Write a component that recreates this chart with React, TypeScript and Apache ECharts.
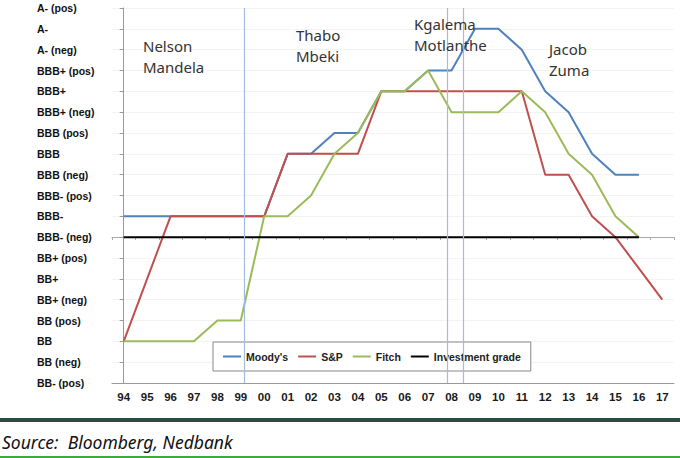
import React from 'react';
import { useEffect, useRef } from 'react';
import * as echarts from 'echarts';

// 评级刻度（自下而上）
const ratings = [
  'BB- (pos)', 'BB (neg)', 'BB', 'BB (pos)', 'BB+ (neg)', 'BB+', 'BB+ (pos)',
  'BBB- (neg)', 'BBB-', 'BBB- (pos)', 'BBB (neg)', 'BBB', 'BBB (pos)',
  'BBB+ (neg)', 'BBB+', 'BBB+ (pos)', 'A- (neg)', 'A-', 'A- (pos)'
];

const years = [
  '94', '95', '96', '97', '98', '99', '00', '01', '02', '03', '04', '05',
  '06', '07', '08', '09', '10', '11', '12', '13', '14', '15', '16', '17'
];

const moodys = [8, 8, 8, 8, 8, 8, 8, 11, 11, 12, 12, 14, 14, 15, 15, 17, 17, 16, 14, 13, 11, 10, 10, null];
const sp = [2, 5, 8, 8, 8, 8, 8, 11, 11, 11, 11, 14, 14, 14, 14, 14, 14, 14, 10, 10, 8, 7, 5.5, 4];
const fitch = [2, 2, 2, 2, 3, 3, 8, 8, 9, 11, 12, 14, 14, 15, 13, 13, 13, 14, 13, 11, 10, 8, 7, null];
const investmentGrade = [7, 7, 7, 7, 7, 7, 7, 7, 7, 7, 7, 7, 7, 7, 7, 7, 7, 7, 7, 7, 7, 7, 7, null];

// 总统任期分界（按年份索引）
const termBreaks = [5.15, 13.8, 14.52];

const presidents = [
  { lines: ['Nelson', 'Mandela'], x: 143, y: 46 },
  { lines: ['Thabo', 'Mbeki'], x: 296, y: 35 },
  { lines: ['Kgalema', 'Motlanthe'], x: 414, y: 24 },
  { lines: ['Jacob', 'Zuma'], x: 549, y: 49 }
];

const ARIAL = '"Liberation Sans", Arial, sans-serif';

const App: React.FC = () => {
  const chartRef = useRef<HTMLDivElement>(null);

  useEffect(() => {
    document.body.style.margin = '0';
    if (!chartRef.current) return;
    const chart = echarts.init(chartRef.current, undefined, { renderer: 'svg' });

    const lineSeries = (name: string, data: (number | null)[], color: string) => ({
      name,
      type: 'line',
      data,
      symbol: 'none',
      xAxisIndex: 0,
      yAxisIndex: 0,
      lineStyle: { color, width: 2 },
      itemStyle: { color }
    });

    const textEls: any[] = [];
    presidents.forEach((p) => {
      p.lines.forEach((t, i) => {
        textEls.push({
          type: 'text',
          x: p.x,
          y: p.y + i * 21,
          z: 100,
          style: {
            text: t,
            fill: '#333',
            font: '15px "Noto Sans", sans-serif',
            verticalAlign: 'middle'
          }
        });
      });
    });

    const option = {
      animation: false,
      grid: { left: 112, right: 6, top: 8, bottom: 75 },
      legend: {
        data: ["Moody's", 'S&P', 'Fitch', 'Investment grade'],
        left: 213,
        top: 342,
        padding: [9, 10],
        itemGap: 10,
        icon: 'rect',
        itemWidth: 18,
        itemHeight: 2,
        backgroundColor: '#fff',
        borderColor: '#888',
        borderWidth: 1,
        borderRadius: 0,
        textStyle: { fontFamily: ARIAL, fontWeight: 'bold', fontSize: 10.5, color: '#222' }
      },
      xAxis: [
        {
          type: 'category',
          data: years,
          boundaryGap: true,
          axisLine: { lineStyle: { color: '#999', width: 1 } },
          axisTick: { show: false },
          axisLabel: {
            fontFamily: ARIAL,
            fontWeight: 'bold',
            fontSize: 11.5,
            color: '#1a1a1a',
            margin: 8,
            interval: 0
          },
          splitLine: { show: false }
        },
        {
          // 投资级线上的刻度
          type: 'category',
          data: years,
          position: 'bottom',
          offset: -146,
          boundaryGap: true,
          axisLine: { lineStyle: { color: '#aaa', width: 1 } },
          axisTick: { show: true, length: 3, lineStyle: { color: '#aaa' } },
          axisLabel: { show: false },
          splitLine: { show: false }
        },
        {
          type: 'value',
          min: -0.5,
          max: 23.5,
          show: false
        }
      ],
      yAxis: {
        type: 'value',
        min: 0,
        max: 18,
        interval: 1,
        axisLine: { show: true, lineStyle: { color: '#999', width: 1 } },
        axisTick: { show: true, length: 4, lineStyle: { color: '#999' } },
        axisLabel: {
          formatter: (v: number) => ratings[v] ?? '',
          align: 'left',
          margin: 75,
          fontFamily: ARIAL,
          fontWeight: 'bold',
          fontSize: 10.5,
          color: '#111'
        },
        splitLine: { lineStyle: { color: '#f3f3f3', width: 1 } }
      },
      series: [
        lineSeries("Moody's", moodys, '#4f81bd'),
        lineSeries('S&P', sp, '#c0504d'),
        lineSeries('Fitch', fitch, '#9bbb59'),
        lineSeries('Investment grade', investmentGrade, '#000000'),
        {
          name: 'terms',
          type: 'line',
          xAxisIndex: 2,
          yAxisIndex: 0,
          data: [],
          z: 10,
          silent: true,
          markLine: {
            silent: true,
            symbol: 'none',
            label: { show: false },
            lineStyle: { color: '#a3bbdc', width: 1.2, type: 'solid' },
            data: termBreaks.map((x) => ({ xAxis: x }))
          }
        }
      ],
      graphic: [
        {
          type: 'line',
          shape: { x1: 112, y1: 8.5, x2: 650, y2: 8.5 },
          style: { stroke: '#999', lineWidth: 1 }
        },
        ...textEls,
        {
          type: 'rect',
          shape: { x: 0, y: 418, width: 680, height: 4 },
          style: { fill: '#2d4b3f' }
        },
        {
          type: 'text',
          x: 2,
          y: 442,
          style: {
            text: 'Source:  Bloomberg, Nedbank',
            fill: '#111',
            font: 'italic 17.5px "Noto Sans", sans-serif',
            verticalAlign: 'middle'
          }
        },
        {
          type: 'rect',
          shape: { x: 0, y: 456, width: 680, height: 2 },
          style: { fill: '#3daa3d' }
        }
      ]
    };

    chart.setOption(option);

    return () => {
      chart.dispose();
    };
  }, []);

  return <div ref={chartRef} style={{ width: 680, height: 458 }}></div>;
};

export default App;
